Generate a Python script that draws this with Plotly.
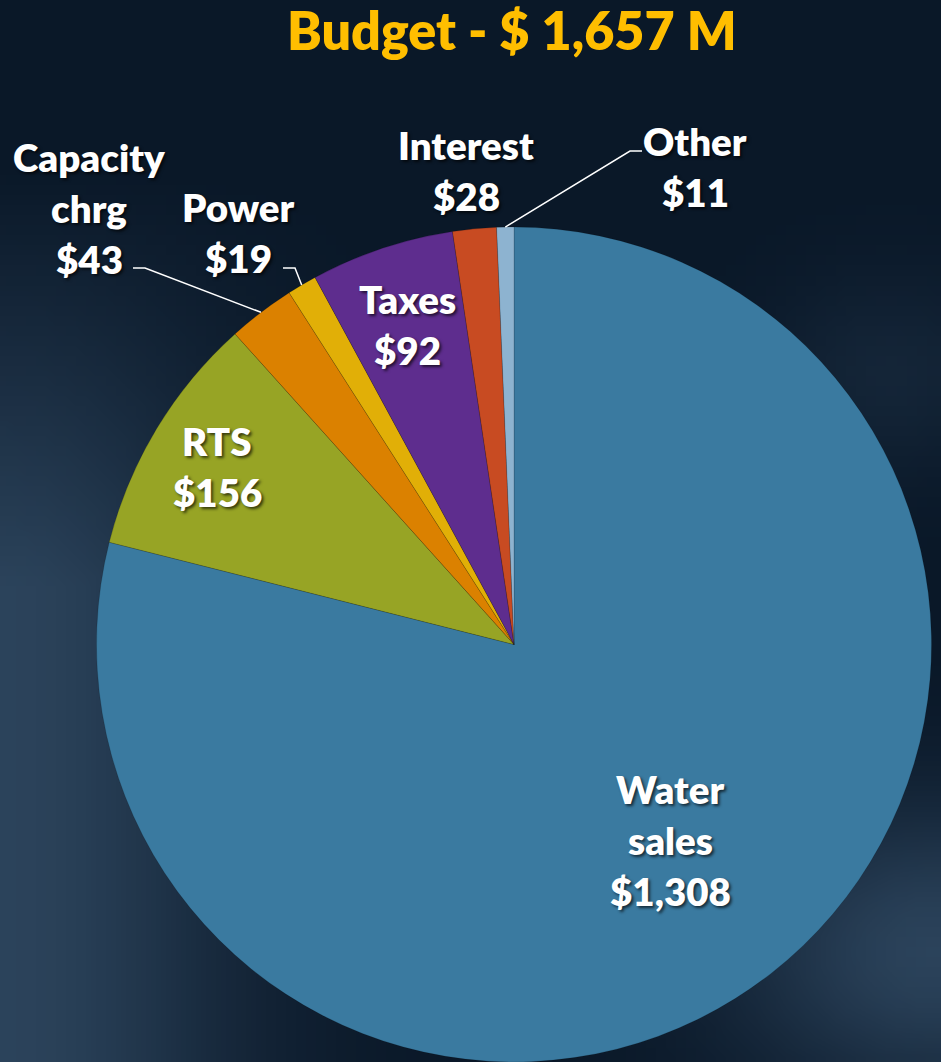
import base64, struct, zlib
import numpy as np
import plotly.graph_objects as go

# ---- data ----
categories = ["Water sales", "RTS", "Capacity chrg", "Power", "Taxes", "Interest", "Other"]
label_lines = [["Water", "sales"], ["RTS"], ["Capacity", "chrg"], ["Power"], ["Taxes"], ["Interest"], ["Other"]]
values = [1308, 156, 43, 19, 92, 28, 11]
colors = ["#3A7AA0", "#97A425", "#DB8100", "#E1AF07", "#5E2D8E", "#C84B22", "#8DB3D0"]
title_text = "Budget - $ 1,657 M"

W, H = 941, 1062
FONT = "Lato"

# ---- background gradient image (generated, no network) ----
def make_bg(w=94, h=106):
    yy, xx = np.mgrid[0:h, 0:w]
    u = xx / (w - 1)
    v = yy / (h - 1)
    base = np.array([10, 24, 40], float)
    light = np.array([52, 78, 104], float)
    t = np.exp(-((u - 0.0) ** 2) / 0.06) * np.clip((v - 0.15) / 0.4, 0, 1) * 0.8
    t2 = np.exp(-((u - 1.0) ** 2) / 0.05 - ((v - 0.9) ** 2) / 0.02) * 0.8
    t3 = np.exp(-((u - 0.95) ** 2) / 0.02 - ((v - 0.35) ** 2) / 0.01) * 0.25
    tt = np.clip(t + t2 + t3, 0, 1)[..., None]
    img = base * (1 - tt) + light * tt
    img = np.clip(img, 0, 255).astype(np.uint8)
    raw = b"".join(b"\x00" + img[r].tobytes() for r in range(h))
    def chunk(tag, data):
        c = struct.pack(">I", len(data)) + tag + data
        return c + struct.pack(">I", zlib.crc32(tag + data) & 0xFFFFFFFF)
    png = b"\x89PNG\r\n\x1a\n" + chunk(b"IHDR", struct.pack(">IIBBBBB", w, h, 8, 2, 0, 0, 0)) \
        + chunk(b"IDAT", zlib.compress(raw, 9)) + chunk(b"IEND", b"")
    return "data:image/png;base64," + base64.b64encode(png).decode()

# ---- pie geometry (pixels) ----
cx, cy, R = 514, 645, 418
dom_x = [(cx - R) / W, (cx + R) / W]
dom_y = [0, (H - (cy - R)) / H]

fig = go.Figure(go.Pie(
    labels=categories, values=values, sort=False, direction="clockwise", rotation=0,
    marker=dict(colors=colors, line=dict(color="rgba(0,0,0,0.25)", width=0.6)),
    textinfo="none", hoverinfo="label+value", showlegend=False,
    domain=dict(x=dom_x, y=dom_y),
))

total = sum(values)
cum = np.cumsum([0] + values)
def edge_point(i, rr=1.0):
    a = np.deg2rad((cum[i] + cum[i + 1]) / 2 / total * 360)
    return cx + R * rr * np.sin(a), cy - R * rr * np.cos(a)

def px2paper(x, y):
    return x / W, 1 - y / H

label_pos = {
    "Water sales": (670, 789),
    "RTS": (217, 441),
    "Capacity chrg": (89, 157),
    "Power": (238, 207),
    "Taxes": (407, 299),
    "Interest": (466, 145),
    "Other": (695, 141),
}
LS = 51
shadow = "2px 2px 3px rgba(0,0,0,0.65)"
annotations = []
for name, lines, v in zip(categories, label_lines, values):
    x0, y0 = label_pos[name]
    for k, t in enumerate(lines + [f"${v:,}"]):
        px, py = px2paper(x0, y0 + k * LS)
        annotations.append(dict(x=px, y=py, xref="paper", yref="paper", text=t, showarrow=False,
                                xanchor="center", yanchor="middle",
                                font=dict(family=FONT, size=38.5, color="white", weight=800, shadow=shadow)))

annotations.append(dict(x=px2paper(512, 30)[0], y=px2paper(512, 30)[1], xref="paper", yref="paper",
                        text=title_text, showarrow=False, xanchor="center", yanchor="middle",
                        font=dict(family=FONT, size=52, color="#FFBE00", weight=800)))

shapes = []
leaders = {"Capacity chrg": (133, 268, 145), "Power": (283, 268, 295), "Other": (642, 151, 630)}
for name, (xa, ya, xb) in leaders.items():
    i = categories.index(name)
    ex, ey = edge_point(i)
    pts = [px2paper(xa, ya), px2paper(xb, ya), px2paper(ex, ey)]
    path = "M {} {} L {} {} L {} {}".format(*[c for p in pts for c in p])
    shapes.append(dict(type="path", path=path, xref="paper", yref="paper",
                       line=dict(color="white", width=1.5)))

fig.update_layout(
    width=W, height=H, margin=dict(l=0, r=0, t=0, b=0),
    paper_bgcolor="#0b1a2c", plot_bgcolor="rgba(0,0,0,0)",
    annotations=annotations, shapes=shapes,
    images=[dict(source=make_bg(), xref="paper", yref="paper", x=0, y=1, sizex=1, sizey=1,
                 sizing="stretch", layer="below", xanchor="left", yanchor="top")],
)
fig.write_html("out.html", config={"displayModeBar": False},
               post_script="document.body.style.margin='0';document.body.style.overflow='hidden';")
